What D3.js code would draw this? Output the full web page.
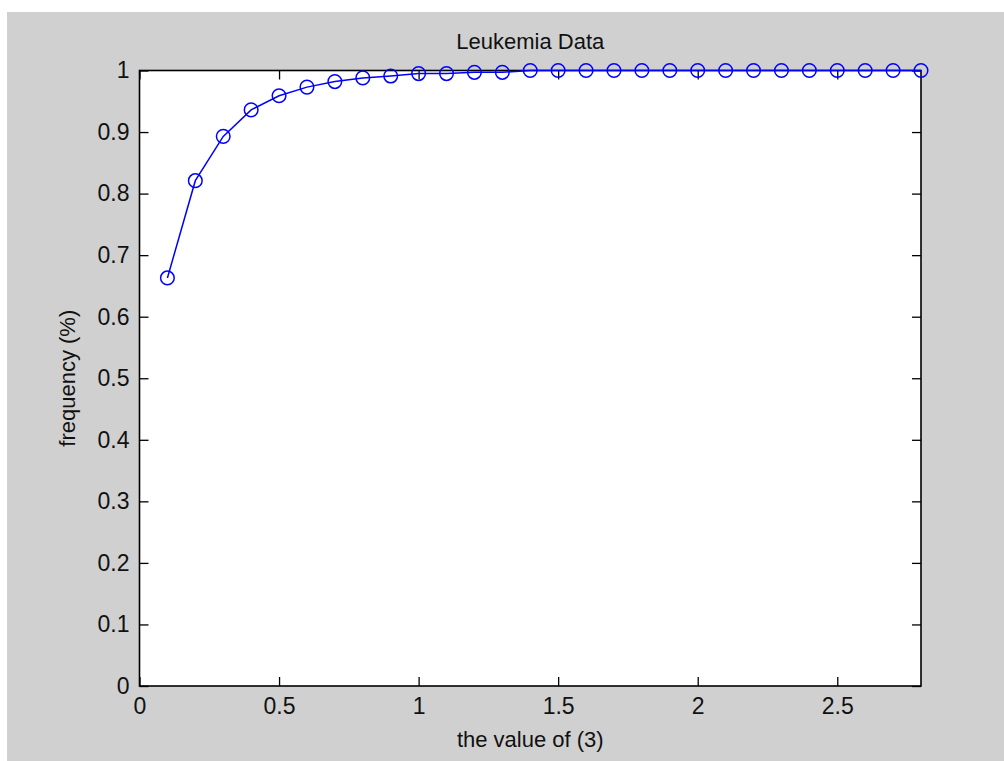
<!DOCTYPE html>
<html>
<head>
<meta charset="utf-8">
<script src="https://cdn.jsdelivr.net/npm/d3@7"></script>
<style>
  html, body { margin: 0; padding: 0; background: #ffffff; }
  svg { display: block; }
  text { font-family: "Liberation Sans", Arial, sans-serif; fill: #111; }
</style>
</head>
<body>
<svg id="chart" width="1004" height="761"></svg>
<script>
// Cumulative frequency of the value of (3)
const xValues = [0.1, 0.2, 0.3, 0.4, 0.5, 0.6, 0.7, 0.8, 0.9, 1.0,
                 1.1, 1.2, 1.3, 1.4, 1.5, 1.6, 1.7, 1.8, 1.9, 2.0,
                 2.1, 2.2, 2.3, 2.4, 2.5, 2.6, 2.7, 2.8];
const frequency = [0.663, 0.821, 0.893, 0.936, 0.959, 0.973, 0.982, 0.988, 0.991, 0.995,
                   0.995, 0.997, 0.997, 1.0, 1.0, 1.0, 1.0, 1.0, 1.0, 1.0,
                   1.0, 1.0, 1.0, 1.0, 1.0, 1.0, 1.0, 1.0];
const xTicks = [0, 0.5, 1, 1.5, 2, 2.5];
const yTicks = [0, 0.1, 0.2, 0.3, 0.4, 0.5, 0.6, 0.7, 0.8, 0.9, 1];
const titleText = "Leukemia Data";
const xLabel = "the value of (3)";
const yLabel = "frequency (%)";

const W = 1004, H = 761;
const plot = { left: 139.5, top: 70.5, right: 921, bottom: 686 };
const svg = d3.select("#chart");

// figure background
svg.append("rect").attr("x", 7).attr("y", 12).attr("width", W - 7).attr("height", H - 12)
  .attr("fill", "#d0d0d0");

const x = d3.scaleLinear().domain([0, 2.8]).range([plot.left, plot.right]);
const y = d3.scaleLinear().domain([0, 1]).range([plot.bottom, plot.top]);

// axes area
svg.append("rect")
  .attr("x", plot.left).attr("y", plot.top)
  .attr("width", plot.right - plot.left).attr("height", plot.bottom - plot.top)
  .attr("fill", "#ffffff");

const tickLen = 9;
const fontSize = 22;
const tickFont = 23;

function styleAxis(g) {
  g.select(".domain").remove();
  g.selectAll(".tick line").attr("stroke", "#000").attr("stroke-width", 1.3);
  g.selectAll(".tick text").attr("font-size", tickFont).attr("fill", "#111")
    .attr("font-family", "'Liberation Sans', Arial, sans-serif");
}

// bottom axis with inward ticks
svg.append("g").attr("transform", `translate(0,${plot.bottom})`)
  .call(d3.axisBottom(x).tickValues(xTicks).tickFormat(d3.format("")).tickSizeInner(-tickLen).tickSizeOuter(0).tickPadding(12))
  .call(styleAxis);
// top axis: ticks only
svg.append("g").attr("transform", `translate(0,${plot.top})`)
  .call(d3.axisTop(x).tickValues(xTicks).tickFormat("").tickSizeInner(-tickLen).tickSizeOuter(0))
  .call(styleAxis);
// left axis with inward ticks
svg.append("g").attr("transform", `translate(${plot.left},0)`)
  .call(d3.axisLeft(y).tickValues(yTicks).tickFormat(d3.format("")).tickSizeInner(-tickLen).tickSizeOuter(0).tickPadding(10))
  .call(styleAxis);
// right axis: ticks only
svg.append("g").attr("transform", `translate(${plot.right},0)`)
  .call(d3.axisRight(y).tickValues(yTicks).tickFormat("").tickSizeInner(-tickLen).tickSizeOuter(0))
  .call(styleAxis);

// axes box
svg.append("rect")
  .attr("x", plot.left).attr("y", plot.top)
  .attr("width", plot.right - plot.left).attr("height", plot.bottom - plot.top)
  .attr("fill", "none").attr("stroke", "#000").attr("stroke-width", 1.6);

// data line and circle markers
const pts = xValues.map((v, i) => [v, frequency[i]]);
svg.append("path").datum(pts)
  .attr("fill", "none").attr("stroke", "#0000ff").attr("stroke-width", 1.5)
  .attr("d", d3.line().x(d => x(d[0])).y(d => y(d[1])));
svg.append("g").selectAll("circle").data(pts).join("circle")
  .attr("cx", d => x(d[0])).attr("cy", d => y(d[1])).attr("r", 6.8)
  .attr("fill", "none").attr("stroke", "#0000ff").attr("stroke-width", 1.5);

// title and axis labels
svg.append("text").attr("x", (plot.left + plot.right) / 2).attr("y", 49)
  .attr("text-anchor", "middle").attr("font-size", fontSize).text(titleText);
svg.append("text").attr("x", (plot.left + plot.right) / 2).attr("y", 747)
  .attr("text-anchor", "middle").attr("font-size", fontSize).text(xLabel);
svg.append("text")
  .attr("transform", `translate(75,${(plot.top + plot.bottom) / 2}) rotate(-90)`)
  .attr("text-anchor", "middle").attr("font-size", fontSize).text(yLabel);
</script>
</body>
</html>
